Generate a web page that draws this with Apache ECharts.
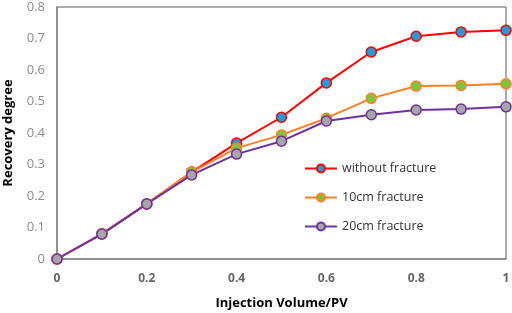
<!DOCTYPE html>
<html><head><meta charset="utf-8">
<script src="https://cdn.jsdelivr.net/npm/echarts@6/dist/echarts.min.js"></script>
<style>html,body{margin:0;padding:0;background:#fff}#c{width:512px;height:313px}</style>
</head><body><div id="c"></div>
<script>
const xValues = [0, 0.1, 0.2, 0.3, 0.4, 0.5, 0.6, 0.7, 0.8, 0.9, 1.0];
const withoutFracture = [0, 0.080, 0.175, 0.276, 0.368, 0.450, 0.559, 0.657, 0.707, 0.721, 0.726];
const frac10cm = [0, 0.080, 0.175, 0.276, 0.352, 0.394, 0.447, 0.510, 0.549, 0.551, 0.556];
const frac20cm = [0, 0.079, 0.175, 0.267, 0.333, 0.374, 0.438, 0.458, 0.473, 0.476, 0.483];
const seriesNames = ['without fracture', '10cm fracture', '20cm fracture'];

const font = "'Open Sans', 'Liberation Sans', sans-serif";
function pairs(ys){ return xValues.map((x,i)=>[x, ys[i]]); }
function mk(name, ys, line, fill){
  return {
    name, type:'line', data: pairs(ys), symbol:'circle', symbolSize:10,
    lineStyle:{color:line, width:2},
    itemStyle:{color:fill, borderColor:line, borderWidth:1.5},
    emphasis:{disabled:true}
  };
}
const chart = echarts.init(document.getElementById('c'));
chart.setOption({
  animation:false,
  grid:{left:57, right:6, top:7, bottom:54, show:true, borderColor:'#595959', borderWidth:1,
    containLabel:false, outerBoundsMode:'none'},
  legend:{
    orient:'vertical', left:299, top:157, itemGap:16, itemWidth:32, itemHeight:10,
    textStyle:{fontFamily:font, fontSize:12.5, color:'#333'},
    data: seriesNames
  },
  xAxis:{type:'value', min:0, max:1, interval:0.2,
    name:'Injection Volume/PV', nameLocation:'middle', nameGap:38,
    nameTextStyle:{fontFamily:font, fontSize:13, fontWeight:'bold', color:'#000'},
    axisLine:{show:true, lineStyle:{color:'#888', width:1.5}},
    axisTick:{show:false}, splitLine:{show:false},
    axisLabel:{fontFamily:font, fontSize:12, fontWeight:'bold', color:'#666', margin:14,
      formatter:v=>String(+v.toFixed(1))}
  },
  yAxis:{type:'value', min:0, max:0.8, interval:0.1,
    name:'Recovery degree', nameLocation:'middle', nameGap:42, nameRotate:90,
    nameTextStyle:{fontFamily:font, fontSize:13, fontWeight:'bold', color:'#000'},
    axisLine:{show:true, lineStyle:{color:'#888', width:1.5}},
    axisTick:{show:false}, splitLine:{show:false},
    axisLabel:{fontFamily:font, fontSize:13, color:'#8c8c8c', margin:12,
      formatter:v=>String(+v.toFixed(1))}
  },
  series:[
    mk(seriesNames[0], withoutFracture, '#ff0000', '#1f9bd7'),
    mk(seriesNames[1], frac10cm, '#ff7f27', '#7cc63c'),
    mk(seriesNames[2], frac20cm, '#7030a0', '#a6a6a6')
  ]
});
</script></body></html>
